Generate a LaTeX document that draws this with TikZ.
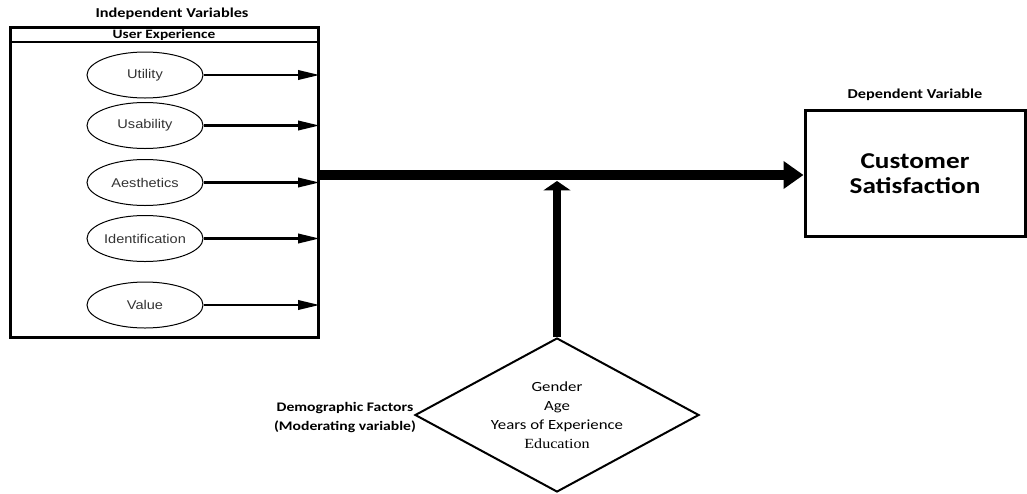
\documentclass[tikz,border=0pt]{standalone}
\usepackage{fontspec}
\usepackage{tikz}
\usetikzlibrary{arrows.meta,shapes.geometric}
\newfontfamily\calibfont[FakeStretch=1.2]{Carlito}
\newfontfamily\arialfont[FakeStretch=1.15]{Liberation Sans}
\newfontfamily\timesfont[FakeStretch=1.15]{Liberation Serif}

\begin{document}
\begin{tikzpicture}[x=0.75pt,y=0.75pt,yscale=-1,xscale=1,
  heading/.style={inner sep=0.75pt,font=\calibfont\bfseries\fontsize{10.2}{12}\selectfont},
  factor/.style={ellipse,draw,line width=0.75pt,minimum width=87pt,minimum height=34.5pt,inner sep=0pt,
    font=\arialfont\fontsize{9.5}{11}\selectfont,text=black!80},
  thinarrow/.style={line width=1.8pt,-{Triangle[length=16pt,width=7pt]}},
  mainarrow/.style={line width=7.5pt,-{Triangle[length=15pt,width=20pt]}},
  modarrow/.style={line width=6pt,-{Triangle[length=7pt,width=20pt]}}]

\useasboundingbox (0,0) rectangle (1027,493);

\node [heading] (indep) at (172,14) {Independent Variables};

\node [draw,line width=2.25pt,minimum width=231pt,minimum height=232.5pt,inner sep=0pt] (uxbox) at (164,182) {};

\draw [line width=1.5pt] (10,42) -- (318,42);

\node [heading,font=\calibfont\bfseries\fontsize{9.6}{11}\selectfont] (uxhead) at (164,35) {User Experience};


\node [factor] (util) at (145,75) {Utility};

\node [factor] (usab) at (145,125.5) {Usability};

\node [factor] (aest) at (145,182.5) {Aesthetics};

\node [factor] (ident) at (145,238.5) {Identification};

\node [factor] (val) at (145,305) {Value};


\draw [thinarrow] (util.east) -- (util.east -| uxbox.east);

\draw [thinarrow] (usab.east) -- (usab.east -| uxbox.east);

\draw [thinarrow] (aest.east) -- (aest.east -| uxbox.east);

\draw [thinarrow] (ident.east) -- (ident.east -| uxbox.east);

\draw [thinarrow] (val.east) -- (val.east -| uxbox.east);


\node [heading] (depend) at (915,95) {Dependent Variable};

\node [draw,line width=2.25pt,minimum width=165pt,minimum height=95pt,inner sep=0pt,align=center,
  font=\calibfont\bfseries\fontsize{17}{19}\selectfont] (cs) at (915,173.5) {Customer\\Satisfaction};

\coordinate (mainstart) at (318,175);

\draw [mainarrow] (mainstart) -- (cs.west |- mainstart);


\node [diamond,draw,line width=1.5pt,minimum width=213pt,minimum height=115.5pt,inner sep=0pt] (demo) at (557,415) {};

\node [align=center,inner sep=0pt,font=\calibfont\fontsize{10.5}{14.25}\selectfont] (demotxt) at (demo.center)
  {Gender\\Age\\Years of Experience\\{\timesfont Education}};

\coordinate (modpt) at (557,181);

\draw [modarrow] (demo.north) -- (modpt);

\node [heading,align=center,font=\calibfont\bfseries\fontsize{9.8}{14.25}\selectfont] (demolbl) at (345,418)
  {Demographic Factors\\(Moderating variable)};

\end{tikzpicture}
\end{document}
